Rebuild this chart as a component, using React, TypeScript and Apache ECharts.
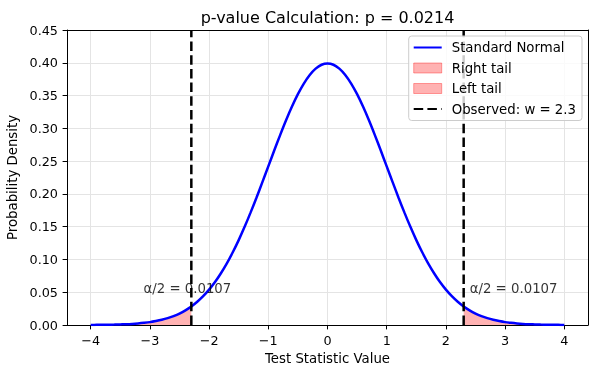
import React, { useEffect, useRef } from 'react';
import * as echarts from 'echarts';

const xValues = [
  -4.0, -3.9, -3.8, -3.7, -3.6, -3.5, -3.4, -3.3, -3.2, -3.1, -3.0, -2.9, -2.8, -2.7, -2.6, -2.5,
  -2.4, -2.3, -2.2, -2.1, -2.0, -1.9, -1.8, -1.7, -1.6, -1.5, -1.4, -1.3, -1.2, -1.1, -1.0, -0.9,
  -0.8, -0.7, -0.6, -0.5, -0.4, -0.3, -0.2, -0.1, 0.0, 0.1, 0.2, 0.3, 0.4, 0.5, 0.6, 0.7, 0.8, 0.9,
  1.0, 1.1, 1.2, 1.3, 1.4, 1.5, 1.6, 1.7, 1.8, 1.9, 2.0, 2.1, 2.2, 2.3, 2.4, 2.5, 2.6, 2.7, 2.8,
  2.9, 3.0, 3.1, 3.2, 3.3, 3.4, 3.5, 3.6, 3.7, 3.8, 3.9, 4.0,
];
const densities = [
  0.0001, 0.0002, 0.0003, 0.0004, 0.0006, 0.0009, 0.0012, 0.0017, 0.0024, 0.0033, 0.0044, 0.006,
  0.0079, 0.0104, 0.0136, 0.0175, 0.0224, 0.0283, 0.0355, 0.044, 0.054, 0.0656, 0.079, 0.094,
  0.1109, 0.1295, 0.1497, 0.1714, 0.1942, 0.2179, 0.242, 0.2661, 0.2897, 0.3123, 0.3332, 0.3521,
  0.3683, 0.3814, 0.391, 0.397, 0.3989, 0.397, 0.391, 0.3814, 0.3683, 0.3521, 0.3332, 0.3123,
  0.2897, 0.2661, 0.242, 0.2179, 0.1942, 0.1714, 0.1497, 0.1295, 0.1109, 0.094, 0.079, 0.0656,
  0.054, 0.044, 0.0355, 0.0283, 0.0224, 0.0175, 0.0136, 0.0104, 0.0079, 0.006, 0.0044, 0.0033,
  0.0024, 0.0017, 0.0012, 0.0009, 0.0006, 0.0004, 0.0003, 0.0002, 0.0001,
];
const rightTailX = [2.3, 2.4, 2.5, 2.6, 2.7, 2.8, 2.9, 3.0, 3.1, 3.2, 3.3, 3.4, 3.5, 3.6, 3.7, 3.8, 3.9, 4.0];
const rightTailY = [
  0.0283, 0.0224, 0.0175, 0.0136, 0.0104, 0.0079, 0.006, 0.0044, 0.0033, 0.0024, 0.0017, 0.0012,
  0.0009, 0.0006, 0.0004, 0.0003, 0.0002, 0.0001,
];
const leftTailX = [-4.0, -3.9, -3.8, -3.7, -3.6, -3.5, -3.4, -3.3, -3.2, -3.1, -3.0, -2.9, -2.8, -2.7, -2.6, -2.5, -2.4, -2.3];
const leftTailY = [
  0.0001, 0.0002, 0.0003, 0.0004, 0.0006, 0.0009, 0.0012, 0.0017, 0.0024, 0.0033, 0.0044, 0.006,
  0.0079, 0.0104, 0.0136, 0.0175, 0.0224, 0.0283,
];
const observedLines = [-2.3, 2.3];
const xRange = [-4.4, 4.4];
const yRange = [0, 0.45];
const xTicks = [-4, -3, -2, -1, 0, 1, 2, 3, 4];
const annotationX = [-3.1, 2.41];
const annotationY = [0.05, 0.05];
const annotationText = ['α/2 = 0.0107', 'α/2 = 0.0107'];
const titleText = 'p-value Calculation: p = 0.0214';
const xLabel = 'Test Statistic Value';
const yLabel = 'Probability Density';

const FONT = 'DejaVu Sans';
const tailFill = 'rgba(255,0,0,0.3)';
const TICK_FS = 12.8;
const TEXT_FS = 13.3;

function zip(xs: number[], ys: number[]) {
  return xs.map((x, i) => [x, ys[i]]);
}

export default function App() {
  const ref = useRef<HTMLDivElement>(null);
  useEffect(() => {
    if (!ref.current) return;
    const chart = echarts.init(ref.current, undefined, { renderer: 'svg' });
    const fmtX = (v: number) => (v < 0 ? '\u2212' + Math.abs(v) : String(v));
    const hiddenSymbol = { color: 'rgba(0,0,0,0)', borderColor: 'rgba(0,0,0,0)', borderWidth: 0 };
    const spine = {
      axisLine: { show: true, onZero: false, lineStyle: { color: '#000', width: 1 } },
      axisTick: { show: false },
      axisLabel: { show: false },
      splitLine: { show: false },
    };
    chart.setOption({
      animation: false,
      textStyle: { fontFamily: FONT },
      grid: {
        left: 67,
        right: 9,
        top: 30,
        bottom: 50,
        containLabel: false,
        outerBoundsMode: 'none',
        show: false,
      },
      graphic: [
        {
          type: 'text',
          x: 327.5,
          y: 25,
          style: {
            text: titleText,
            fontFamily: FONT,
            fontSize: 16,
            fill: '#000',
            align: 'center',
            verticalAlign: 'bottom',
          },
        },
      ],
      legend: {
        orient: 'vertical',
        right: 15,
        top: 36,
        itemWidth: 28,
        itemHeight: 10,
        itemGap: 6.5,
        padding: [4.5, 6, 4.5, 4],
        backgroundColor: 'rgba(255,255,255,0.8)',
        borderColor: '#cccccc',
        borderWidth: 1,
        borderRadius: 3,
        textStyle: { fontFamily: FONT, fontSize: TEXT_FS, color: '#000', padding: [0, 0, 0, 5], lineHeight: 14 },
        data: [
          { name: 'Standard Normal', itemStyle: hiddenSymbol },
          { name: 'Right tail', icon: 'rect', itemStyle: { color: tailFill, borderColor: 'rgba(255,0,0,0.35)', borderWidth: 1 } },
          { name: 'Left tail', icon: 'rect', itemStyle: { color: tailFill, borderColor: 'rgba(255,0,0,0.35)', borderWidth: 1 } },
          { name: 'Observed: w = 2.3', itemStyle: hiddenSymbol },
        ],
      },
      xAxis: [
        {
          type: 'value',
          min: xRange[0],
          max: xRange[1],
          name: xLabel,
          nameLocation: 'middle',
          nameGap: 27,
          nameTextStyle: { fontFamily: FONT, fontSize: TEXT_FS, color: '#000' },
          axisLine: { show: true, onZero: false, lineStyle: { color: '#000', width: 1 } },
          axisTick: { show: true, inside: false, length: 4.4, customValues: xTicks, lineStyle: { color: '#000' } },
          axisLabel: { customValues: xTicks, formatter: fmtX, margin: 8.5, fontFamily: FONT, fontSize: TICK_FS, color: '#000' },
          splitLine: { show: true, lineStyle: { color: '#e4e4e4', width: 1 } },
        },
        { type: 'value', position: 'top', min: xRange[0], max: xRange[1], ...spine },
      ],
      yAxis: [
        {
          type: 'value',
          min: yRange[0],
          max: yRange[1],
          interval: 0.05,
          name: yLabel,
          nameLocation: 'middle',
          nameGap: 47,
          nameTextStyle: { fontFamily: FONT, fontSize: TEXT_FS, color: '#000' },
          axisLine: { show: true, onZero: false, lineStyle: { color: '#000', width: 1 } },
          axisTick: { show: true, inside: false, length: 4.4, lineStyle: { color: '#000' } },
          axisLabel: { formatter: (v: number) => v.toFixed(2), margin: 9, fontFamily: FONT, fontSize: TICK_FS, color: '#000' },
          splitLine: { show: true, lineStyle: { color: '#e4e4e4', width: 1 } },
        },
        { type: 'value', position: 'right', min: yRange[0], max: yRange[1], ...spine },
      ],
      series: [
        {
          name: 'Right tail',
          type: 'line',
          data: zip(rightTailX, rightTailY),
          symbol: 'none',
          lineStyle: { width: 0 },
          itemStyle: { color: tailFill },
          areaStyle: { color: tailFill, opacity: 1 },
          silent: true,
        },
        {
          name: 'Left tail',
          type: 'line',
          data: zip(leftTailX, leftTailY),
          symbol: 'none',
          lineStyle: { width: 0 },
          itemStyle: { color: tailFill },
          areaStyle: { color: tailFill, opacity: 1 },
          silent: true,
        },
        {
          name: 'Standard Normal',
          type: 'line',
          data: zip(xValues, densities),
          smooth: 0.3,
          symbol: 'none',
          itemStyle: { color: '#0000ff' },
          lineStyle: { color: '#0000ff', width: 2.5 },
          silent: true,
        },
        ...observedLines.map((x) => ({
          name: 'Observed: w = 2.3',
          type: 'line',
          data: [
            [x, yRange[0]],
            [x, yRange[1]],
          ],
          symbol: 'none',
          itemStyle: { color: '#000' },
          lineStyle: { color: '#000', width: 2.5, type: [9.5, 4.2] },
          silent: true,
        })),
        {
          type: 'scatter',
          symbolSize: 1,
          itemStyle: { color: 'rgba(0,0,0,0)' },
          silent: true,
          z: 5,
          data: annotationX.map((x, i) => ({
            value: [x, annotationY[i]],
            label: { formatter: annotationText[i] },
          })),
          label: {
            show: true,
            position: [0, 0],
            align: 'left',
            verticalAlign: 'bottom',
            offset: [0, 3],
            fontFamily: FONT,
            fontSize: TEXT_FS,
            color: '#000',
          },
        },
      ],
    });
    return () => chart.dispose();
  }, []);
  return <div ref={ref} style={{ position: 'fixed', left: 0, top: 0, width: 597, height: 375 }} />;
}
